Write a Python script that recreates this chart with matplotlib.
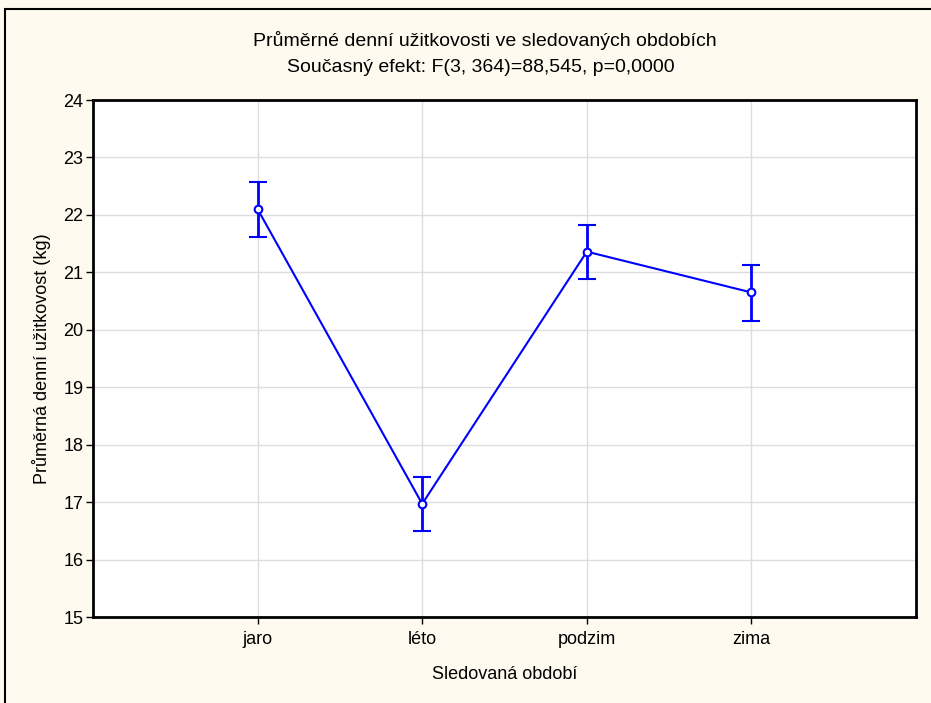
import matplotlib
matplotlib.use('Agg')
import matplotlib.pyplot as plt
from matplotlib.patches import Rectangle

# data
obdobi = ['jaro', 'léto', 'podzim', 'zima']
prumer = [22.10, 16.97, 21.36, 20.65]
horni = [22.57, 17.44, 21.83, 21.12]
dolni = [21.62, 16.49, 20.89, 20.16]
y_ticks = [15, 16, 17, 18, 19, 20, 21, 22, 23, 24]

plt.rcParams['font.family'] = ['Liberation Sans', 'DejaVu Sans']

W, H = 931, 703
fig = plt.figure(figsize=(W / 100, H / 100), dpi=100)
fig.patch.set_facecolor('#fffaf0')

# outer frame (only top and left edges visible)
fig.add_artist(Rectangle((5 / W, -0.1), 1.1, 1.1 - 9 / H, transform=fig.transFigure,
                         fill=False, edgecolor='black', linewidth=1.5))

ax = fig.add_axes([93 / W, 1 - 617 / H, (916 - 93) / W, (617 - 100) / H])
ax.set_facecolor('white')

x = list(range(1, len(obdobi) + 1))
err_lo = [p - d for p, d in zip(prumer, dolni)]
err_hi = [h - p for h, p in zip(horni, prumer)]
ax.errorbar(x, prumer, yerr=[err_lo, err_hi], color='#0000ff', linewidth=1.5,
            elinewidth=2, capsize=6.5, capthick=2, marker='o', markersize=5.5,
            markerfacecolor='white', markeredgecolor='#0000ff', markeredgewidth=1.5,
            zorder=3)

ax.set_xlim(0, 5)
ax.set_ylim(15, 24)
ax.set_xticks(x)
ax.set_xticklabels(obdobi)
ax.set_yticks(y_ticks)
ax.grid(True, color='#dedede', linewidth=1)
ax.set_axisbelow(True)
for s in ax.spines.values():
    s.set_linewidth(2)
ax.tick_params(axis='both', length=5, width=1, labelsize=13, direction='out')
ax.tick_params(axis='x', pad=5)
ax.tick_params(axis='y', pad=2)

ax.set_xlabel('Sledovaná období', fontsize=13, labelpad=13)
ax.set_ylabel('Průměrná denní užitkovost (kg)', fontsize=13, labelpad=9)

fig.text(485 / W, 1 - 40 / H, 'Průměrné denní užitkovosti ve sledovaných obdobích',
         ha='center', va='center', fontsize=14)
fig.text(481 / W, 1 - 67 / H, 'Současný efekt: F(3, 364)=88,545, p=0,0000',
         ha='center', va='center', fontsize=14)

fig.savefig('out.png', dpi=100, facecolor=fig.get_facecolor())
